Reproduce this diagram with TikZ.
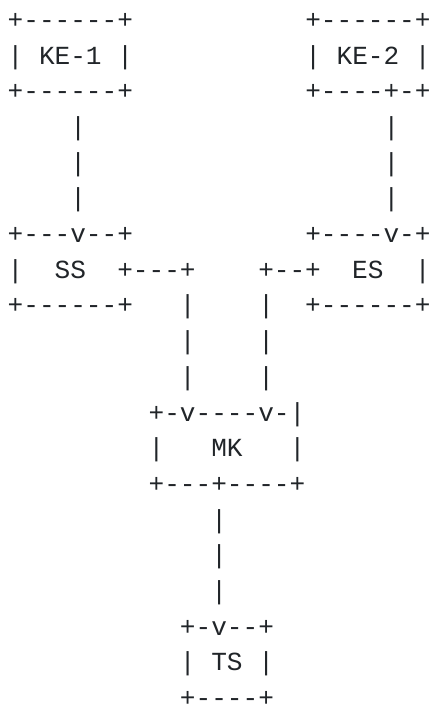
\documentclass[tikz,border=0pt]{standalone}
\usepackage{fontspec}
\setmonofont{Liberation Mono}
\definecolor{ink}{HTML}{212529}
\begin{document}
\begin{tikzpicture}[x=1pt,y=-1pt,
  asciiline/.style={anchor=base west, inner sep=0pt, outer sep=0pt, text=ink,
    font=\fontsize{26.1pt}{35.7pt}\selectfont\ttfamily}]
\useasboundingbox (0,0) rectangle (432,707);
% one node per text row; rows are 35.7pt apart
\node[asciiline] (r01) at (7.7,  28.3) {+------+~~~~~~~~~~~+------+};
\node[asciiline] (r02) at (7.7,  64.0) {|~KE-1~|~~~~~~~~~~~|~KE-2~|};
\node[asciiline] (r03) at (7.7,  99.7) {+------+~~~~~~~~~~~+----+-+};
\node[asciiline] (r04) at (7.7, 135.4) {~~~~|~~~~~~~~~~~~~~~~~~~|};
\node[asciiline] (r05) at (7.7, 171.1) {~~~~|~~~~~~~~~~~~~~~~~~~|};
\node[asciiline] (r06) at (7.7, 206.8) {~~~~|~~~~~~~~~~~~~~~~~~~|};
\node[asciiline] (r07) at (7.7, 242.5) {+---v--+~~~~~~~~~~~+----v-+};
\node[asciiline] (r08) at (7.7, 278.2) {|~~SS~~+---+~~~~+--+~~ES~~|};
\node[asciiline] (r09) at (7.7, 313.9) {+------+~~~|~~~~|~~+------+};
\node[asciiline] (r10) at (7.7, 349.6) {~~~~~~~~~~~|~~~~|};
\node[asciiline] (r11) at (7.7, 385.3) {~~~~~~~~~~~|~~~~|};
\node[asciiline] (r12) at (7.7, 421.0) {~~~~~~~~~+-v----v-|};
\node[asciiline] (r13) at (7.7, 456.7) {~~~~~~~~~|~~~MK~~~|};
\node[asciiline] (r14) at (7.7, 492.4) {~~~~~~~~~+---+----+};
\node[asciiline] (r15) at (7.7, 528.1) {~~~~~~~~~~~~~|};
\node[asciiline] (r16) at (7.7, 563.8) {~~~~~~~~~~~~~|};
\node[asciiline] (r17) at (7.7, 599.5) {~~~~~~~~~~~~~|};
\node[asciiline] (r18) at (7.7, 635.2) {~~~~~~~~~~~+-v--+};
\node[asciiline] (r19) at (7.7, 670.9) {~~~~~~~~~~~|~TS~|};
\node[asciiline] (r20) at (7.7, 706.6) {~~~~~~~~~~~+----+};
\end{tikzpicture}
\end{document}
